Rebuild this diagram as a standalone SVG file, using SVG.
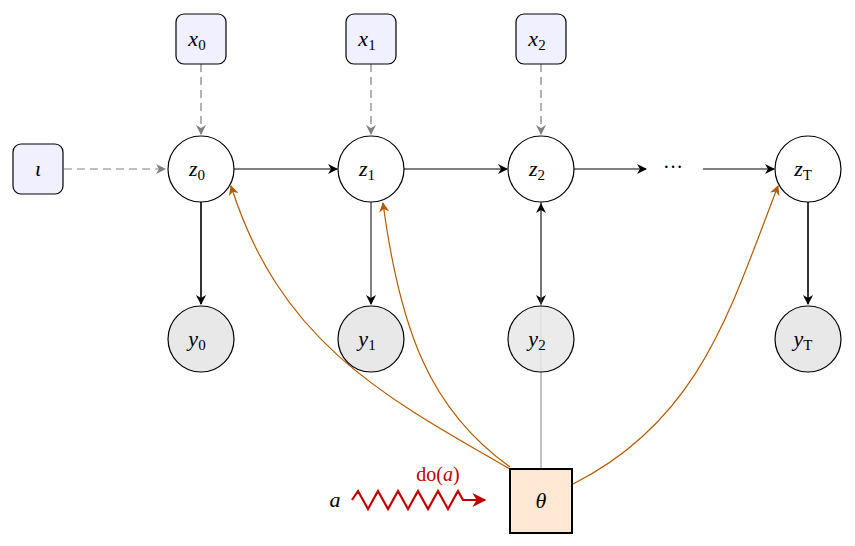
<svg xmlns="http://www.w3.org/2000/svg" width="855" height="546" viewBox="0 0 855 546">
<style>
.t{font-family:"Liberation Serif","DejaVu Serif",serif;font-style:italic;font-size:22px;text-anchor:middle;fill:#000}
.s{font-size:15px;font-style:normal}
.z{fill:#fff;stroke:#000;stroke-width:1.2}
.y{fill:#e8e8e8;stroke:#000;stroke-width:1.2}
.b{fill:#f0f0ff;stroke:#000;stroke-width:1.2}
.dg{stroke:#808080;stroke-width:1.2;stroke-dasharray:8 5;fill:none}
.k{stroke:#000;stroke-width:1;fill:none}
.kk{stroke:#000;stroke-width:1.6;fill:none}
.o{stroke:#b35a00;stroke-width:1.2;fill:none}
</style>
<defs>
<marker id="ak" viewBox="0 0 10 10" refX="9" refY="5" markerWidth="10" markerHeight="10" markerUnits="userSpaceOnUse" orient="auto"><path d="M0,0 L10,5 L0,10 L3,5 Z" fill="#000"/></marker>
<marker id="ag" viewBox="0 0 10 10" refX="9" refY="5" markerWidth="10" markerHeight="10" markerUnits="userSpaceOnUse" orient="auto"><path d="M0,0 L10,5 L0,10 L3,5 Z" fill="#808080"/></marker>
<marker id="ao" viewBox="0 0 10 10" refX="9" refY="5" markerWidth="10" markerHeight="10" markerUnits="userSpaceOnUse" orient="auto"><path d="M0,0 L10,5 L0,10 L3,5 Z" fill="#b35a00"/></marker>
<marker id="ar" viewBox="0 0 10 10" refX="9" refY="5" markerWidth="14" markerHeight="14" markerUnits="userSpaceOnUse" orient="auto"><path d="M0,0 L10,5 L0,10 L3,5 Z" fill="#c00000"/></marker>
</defs>
<g id="connectors">
<path class="dg" d="M64,169 H165" marker-end="url(#ag)"/>
<path class="dg" d="M201,64 V134" marker-end="url(#ag)"/>
<path class="dg" d="M371,64 V134" marker-end="url(#ag)" stroke-dasharray="6 5" stroke-width="0.8"/>
<path class="dg" d="M541,64 V134" marker-end="url(#ag)" stroke-dasharray="6 5" stroke-width="0.8"/>
<path class="k" d="M234,169 H337" marker-end="url(#ak)"/>
<path class="k" d="M404,169 H507" marker-end="url(#ak)"/>
<path class="k" d="M574,169 H646" marker-end="url(#ak)"/>
<path class="k" d="M703,169 H774" marker-end="url(#ak)"/>
<path class="kk" d="M201,202 V304" marker-end="url(#ak)"/>
<path class="k" d="M371,202 V304" marker-end="url(#ak)"/>
<path class="k" d="M541,202 V304" marker-end="url(#ak)" stroke="#555" stroke-width="0.8"/>
<path class="kk" d="M808,202 V304" marker-end="url(#ak)"/>
<path d="M541,469 V204" stroke="#666" stroke-width="0.8" fill="none" marker-end="url(#ak)"/>
<path class="o" d="M510,469 C380,395 280,340 231,186" marker-end="url(#ao)"/>
<path class="o" d="M510,467 C430,410 400,330 383,203" marker-end="url(#ao)"/>
<path class="o" d="M573,484 C700,420 730,310 778,186" marker-end="url(#ao)"/>
<path d="M352,500 l6,-9 l10,18 l10,-18 l10,18 l10,-18 l10,18 l10,-18 l10,18 l10,-18 l10,18 l10,-18 l5,9 h22" stroke="#c00000" stroke-width="2.2" fill="none" stroke-linejoin="miter" marker-end="url(#ar)"/>
</g>
<text class="t" x="438" y="481" fill="#c00000" style="fill:#c00000;font-style:normal;font-size:20px">do(<tspan font-style="italic">a</tspan>)</text>
<text class="t" x="335" y="507">a</text>
<g id="iota"><rect class="b" x="13" y="144" width="50" height="50" rx="8"/><text class="t" x="38" y="176">ι</text></g>
<g id="x0"><rect class="b" x="176" y="14" width="50" height="50" rx="8"/><text class="t" x="197" y="46">x<tspan class="s" dy="4">0</tspan></text></g>
<g id="x1"><rect class="b" x="346" y="14" width="50" height="50" rx="8"/><text class="t" x="367" y="46">x<tspan class="s" dy="4">1</tspan></text></g>
<g id="x2"><rect class="b" x="516" y="14" width="50" height="50" rx="8"/><text class="t" x="537" y="46">x<tspan class="s" dy="4">2</tspan></text></g>
<g id="z0"><circle class="z" cx="201" cy="169" r="33"/><text class="t" x="197" y="176">z<tspan class="s" dy="4">0</tspan></text></g>
<g id="z1"><circle class="z" cx="371" cy="169" r="33"/><text class="t" x="367" y="176">z<tspan class="s" dy="4">1</tspan></text></g>
<g id="z2"><circle class="z" cx="541" cy="169" r="33"/><text class="t" x="537" y="176">z<tspan class="s" dy="4">2</tspan></text></g>
<g id="dots"><text x="673" y="174" font-family="Liberation Serif,serif" font-size="20" text-anchor="middle">···</text></g>
<g id="zT"><circle class="z" cx="808" cy="169" r="33"/><text class="t" x="803" y="176">z<tspan class="s" dy="4">T</tspan></text></g>
<g id="y0"><circle class="y" cx="201" cy="339" r="33"/><text class="t" x="197" y="346">y<tspan class="s" dy="4">0</tspan></text></g>
<g id="y1"><circle class="y" cx="371" cy="339" r="33"/><text class="t" x="367" y="346">y<tspan class="s" dy="4">1</tspan></text></g>
<g id="y2"><circle class="y" cx="541" cy="339" r="33" fill-opacity="0.85"/><text class="t" x="537" y="346">y<tspan class="s" dy="4">2</tspan></text></g>
<g id="yT"><circle class="y" cx="808" cy="339" r="33"/><text class="t" x="803" y="346">y<tspan class="s" dy="4">T</tspan></text></g>
<g id="theta"><rect x="510" y="469" width="62" height="64" fill="#ffe9d4" stroke="#000" stroke-width="2"/><text class="t" x="541" y="508">θ</text></g>
</svg>
